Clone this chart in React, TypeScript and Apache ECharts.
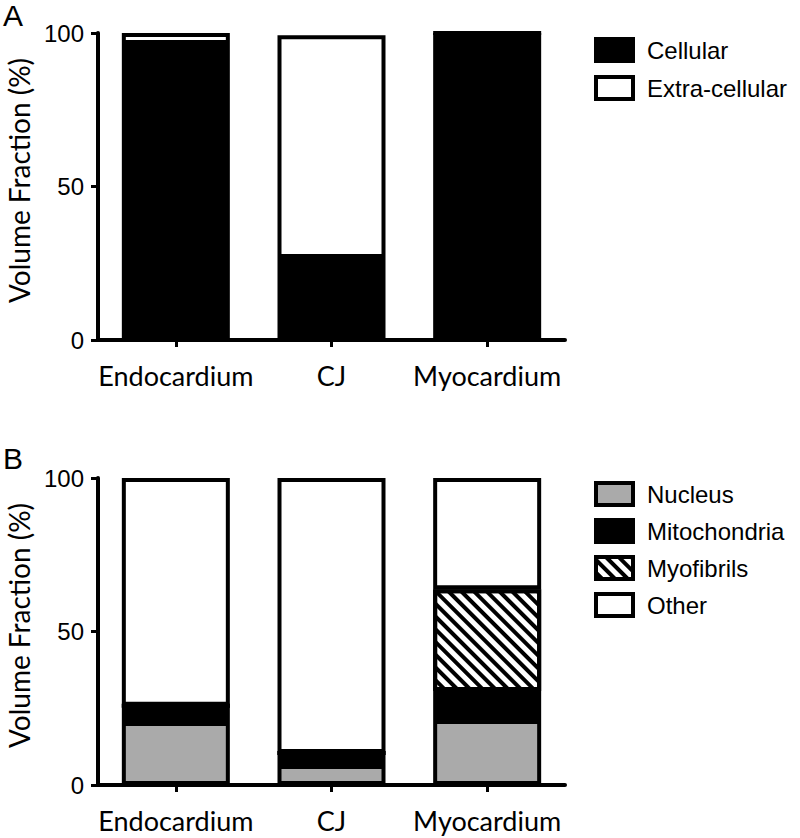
import React, { useEffect, useRef } from "react";
import * as echarts from "echarts";

const categories = ["Endocardium", "CJ", "Myocardium"];
const yTicks = [0, 50, 100];

// Panel A
const cellular = [96.4, 26.7, 100];
const extraCellular = [3.6, 72.6, 0];

// Panel B
const nucleus = [20.5, 6.5, 21.2];
const mitochondria = [5.3, 3.9, 9.4];
const myofibrils = [0, 0, 33.2];
const other = [74.2, 89.6, 36.2];

const SANS = "'Liberation Sans', Arial, sans-serif";
const CAL = "Lato, 'Open Sans', sans-serif";

export default function App() {
  const ref = useRef<HTMLDivElement>(null);
  useEffect(() => {
    if (!ref.current) return;
    const chart = echarts.init(ref.current, null, { renderer: "svg" });

    const grids = [
      { left: 98, top: 33, width: 467, height: 307, outerBoundsMode: "none" },
      { left: 98, top: 478, width: 467, height: 307, outerBoundsMode: "none" },
    ];

    const xAxis = grids.map((_, i) => ({
      type: "category",
      gridIndex: i,
      data: categories,
      axisLine: { show: true, lineStyle: { color: "#000", width: 4 } },
      axisTick: { show: true, alignWithLabel: true, length: 7, lineStyle: { color: "#000", width: 3 } },
      axisLabel: { color: "#000", fontFamily: CAL, fontSize: 27, margin: 22, interval: 0 },
    }));

    const yAxis = grids.map((_, i) => ({
      type: "value",
      gridIndex: i,
      min: yTicks[0],
      max: yTicks[yTicks.length - 1],
      interval: yTicks[1] - yTicks[0],
      name: "Volume Fraction (%)",
      nameLocation: "middle",
      nameGap: 62,
      nameTextStyle: { color: "#000", fontFamily: CAL, fontSize: 28, padding: [0, 0, 0, 12] },
      axisLine: { show: true, lineStyle: { color: "#000", width: 4 } },
      axisTick: { show: true, length: 7, lineStyle: { color: "#000", width: 3 } },
      axisLabel: { color: "#000", fontFamily: SANS, fontSize: 24, margin: 14 },
      splitLine: { show: false },
    }));

    const barBase = (name: string, idx: number, stack: string, data: number[], itemStyle: any) => ({
      name,
      type: "bar",
      xAxisIndex: idx,
      yAxisIndex: idx,
      stack,
      data,
      barWidth: 108,
      itemStyle: { borderColor: "#000", borderWidth: 4, ...itemStyle },
    });

    const hatch = {
      symbol: "rect",
      symbolSize: 1,
      color: "#000",
      backgroundColor: "#fff",
      dashArrayX: [1, 0],
      dashArrayY: [4, 5],
      rotation: Math.PI / 4,
    };

    const legendCommon = {
      orient: "vertical",
      left: 594,
      padding: 0,
      itemWidth: 37,
      itemHeight: 22,
      selectedMode: false,
      icon: "rect",
      itemStyle: { borderColor: "#000", borderWidth: 4 },
      textStyle: { color: "#000", fontFamily: SANS, fontSize: 24, padding: [0, 0, 0, 9] },
    };

    chart.setOption({
      animation: false,
      grid: grids,
      xAxis,
      yAxis,
      legend: [
        { ...legendCommon, top: 37, itemGap: 12, data: ["Cellular", "Extra-cellular"] },
        { ...legendCommon, top: 481, itemGap: 11, data: ["Nucleus", "Mitochondria", "Myofibrils", "Other"] },
      ],
      graphic: [
        { type: "text", left: 3, top: 0, style: { text: "A", fontFamily: SANS, fontSize: 30, fill: "#000" } },
        { type: "text", left: 3, top: 443, style: { text: "B", fontFamily: SANS, fontSize: 30, fill: "#000" } },
      ],
      series: [
        barBase("Cellular", 0, "a", cellular, { color: "#000" }),
        barBase("Extra-cellular", 0, "a", extraCellular, { color: "#fff" }),
        barBase("Nucleus", 1, "b", nucleus, { color: "#aaaaaa" }),
        barBase("Mitochondria", 1, "b", mitochondria, { color: "#000" }),
        barBase("Myofibrils", 1, "b", myofibrils, { color: "#fff", decal: hatch }),
        barBase("Other", 1, "b", other, { color: "#fff" }),
      ],
    });
    return () => chart.dispose();
  }, []);
  return <div ref={ref} style={{ width: 800, height: 838, position: "absolute", left: 0, top: 0 }} />;
}
